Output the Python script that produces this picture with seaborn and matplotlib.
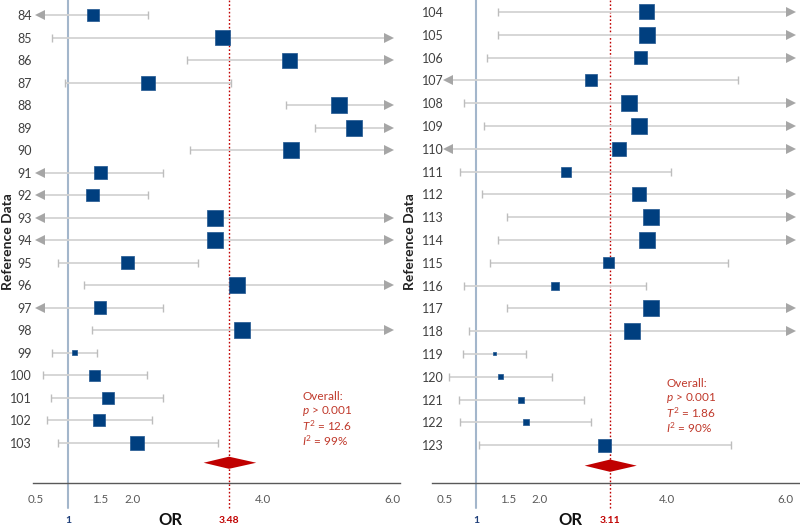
import numpy as np
import pandas as pd
import matplotlib
matplotlib.use("Agg")
import matplotlib.pyplot as plt
from matplotlib import transforms
import seaborn as sns

# ---------------- data ----------------
left_refs = list(range(84, 104))
left_or = [1.38, 3.38, 4.42, 2.24, 5.18, 5.40, 4.43, 1.50, 1.38, 3.26,
           3.26, 1.92, 3.61, 1.49, 3.68, 1.10, 1.41, 1.61, 1.48, 2.07]
left_lo = [0.40, 0.76, 2.84, 0.96, 4.36, 4.81, 2.88, 0.40, 0.40, 0.40,
           0.40, 0.85, 1.24, 0.40, 1.37, 0.76, 0.62, 0.74, 0.68, 0.85]
left_hi = [2.24, 7.50, 7.50, 3.51, 7.50, 7.50, 7.50, 2.47, 2.24, 7.50,
           7.50, 3.01, 7.50, 2.47, 7.50, 1.44, 2.22, 2.47, 2.29, 3.31]
left_w = [12, 15, 15, 14, 16, 16, 16, 13, 12.5, 16,
          16, 13, 16, 12.5, 16, 5, 11, 12, 11.5, 14]
left_pooled = 3.48
left_pooled_ci = (3.09, 3.90)
left_stats = ["Overall:", r"$p$ > 0.001", r"$T^2$ = 12.6", r"$I^2$ = 99%"]

right_refs = list(range(104, 124))
right_or = [3.69, 3.69, 3.59, 2.81, 3.41, 3.57, 3.25, 2.41, 3.56, 3.76,
            3.69, 3.09, 2.25, 3.76, 3.46, 1.29, 1.39, 1.71, 1.78, 3.03]
right_lo = [1.35, 1.35, 1.17, 0.40, 0.81, 1.12, 0.40, 0.74, 1.10, 1.49,
            1.35, 1.22, 0.81, 1.49, 0.89, 0.79, 0.58, 0.73, 0.75, 1.04]
right_hi = [7.50, 7.50, 7.50, 5.12, 7.50, 7.50, 7.50, 4.07, 7.50, 7.50,
            7.50, 4.97, 3.68, 7.50, 7.50, 1.79, 2.20, 2.70, 2.81, 5.02]
right_w = [15, 16, 13, 12, 16, 16, 14, 10, 14, 16,
           16, 11, 8, 16, 16, 3, 5, 6, 6, 13]
right_pooled = 3.11
right_pooled_ci = (2.71, 3.53)
right_stats = ["Overall:", r"$p$ > 0.001", r"$T^2$ = 1.86", r"$I^2$ = 90%"]

xtick_vals = [0.5, 1.5, 2.0, 4.0, 6.0]
xtick_labels = ["0.5", "1.5", "2.0", "4.0", "6.0"]
null_value = 1

# ---------------- style ----------------
sns.set_style("white")
plt.rcParams["font.family"] = ["Lato", "DejaVu Sans"]
plt.rcParams["mathtext.fontset"] = "custom"
plt.rcParams["mathtext.rm"] = "Lato"
plt.rcParams["mathtext.it"] = "Lato:italic"

BOX = "#003f7f"
CI = "#d3d3d3"
CAP = "#bdbdbd"
ARROW = "#a6a6a6"
RED = "#c00000"
NULLC = "#a3b6cb"

fig = plt.figure(figsize=(8, 5.27), dpi=100)
axL = fig.add_axes([33 / 800, 44 / 527, 367 / 800, 483 / 527])
axR = fig.add_axes([432 / 800, 44 / 527, 368 / 800, 483 / 527])


def panel(ax, refs, ors, los, his, ws, pooled, pci, stats, xlim, ylim,
          arrow_lo, arrow_hi, label_pad, stats_xy):
    n = len(refs)
    rows = np.arange(n)
    df = pd.DataFrame({"ref": refs, "or": ors, "lo": los, "hi": his,
                       "w": ws, "row": rows})
    df["area"] = (df["w"] * 0.72) ** 2

    ax.set_xlim(*xlim)
    ax.set_ylim(*ylim)

    # reference lines
    ax.axvline(null_value, ymin=-0.052, ymax=1, color=NULLC, lw=1.5,
               clip_on=False, zorder=1)
    ax.axvline(pooled, ymin=-0.052, ymax=1, color=RED, lw=1.0,
               ls=(0, (1.2, 1.5)), clip_on=False, zorder=1)

    # confidence intervals
    for _, r in df.iterrows():
        lo_clip = max(r["lo"], arrow_lo)
        hi_clip = min(r["hi"], arrow_hi)
        ax.plot([lo_clip, hi_clip], [r["row"], r["row"]], color=CI, lw=1.3,
                zorder=2, solid_capstyle="butt")
        if r["lo"] < arrow_lo:
            ax.plot(arrow_lo, r["row"], marker="<", color=ARROW, ms=6.5,
                    mew=0, zorder=3)
        else:
            ax.plot(r["lo"], r["row"], marker="|", color=CAP, ms=6,
                    mew=1.0, zorder=3)
        if r["hi"] > arrow_hi:
            ax.plot(arrow_hi, r["row"], marker=">", color=ARROW, ms=7,
                    mew=0, zorder=3)
        else:
            ax.plot(r["hi"], r["row"], marker="|", color=CAP, ms=6,
                    mew=1.0, zorder=3)

    # study boxes
    sizes = {a: a for a in df["area"].unique()}
    sns.scatterplot(data=df, x="or", y="row", size="area", sizes=sizes,
                    marker="s", color=BOX, edgecolor="#1f5590", linewidth=0.5,
                    legend=False, ax=ax, zorder=4)

    # pooled diamond
    dy = n - 0.1
    h = 0.27
    ax.fill([pci[0], pooled, pci[1], pooled], [dy, dy - h, dy, dy + h],
            color=RED, lw=0, zorder=4)

    # axes cosmetics
    for s in ["top", "right", "left"]:
        ax.spines[s].set_visible(False)
    ax.spines["bottom"].set_color("#595959")
    ax.spines["bottom"].set_linewidth(1.0)
    ax.set_yticks(rows)
    ax.set_yticklabels([str(r) for r in refs], fontsize=9, color="#404040")
    ax.tick_params(axis="y", length=0, pad=label_pad)
    ax.set_xticks(xtick_vals)
    ax.set_xticklabels(xtick_labels, fontsize=8.3, color="#595959")
    ax.tick_params(axis="x", length=0, pad=8)
    ax.set_xlabel("")
    ax.set_ylabel("Reference Data", fontsize=10, fontweight="bold",
                  color="#222222")

    trans = transforms.blended_transform_factory(ax.transData, ax.transAxes)
    ax.text(null_value, -0.077, "1", transform=trans, ha="center",
            va="center", fontsize=7.5, fontweight="bold", color="#1f3f7a")
    ax.text(pooled, -0.077, f"{pooled:.2f}", transform=trans, ha="center",
            va="center", fontsize=7.5, fontweight="bold", color=RED)
    ax.text(0.375, -0.077, "OR", transform=ax.transAxes, ha="center",
            va="center", fontsize=12, fontweight="bold", color="#111111")

    sx, sy = stats_xy
    for i, line in enumerate(stats):
        ax.text(sx, sy - i * 0.0305, line, transform=ax.transAxes,
                ha="left", va="center", fontsize=8.5, color="#c0392b")


panel(axL, left_refs, left_or, left_lo, left_hi, left_w, left_pooled,
      left_pooled_ci, left_stats, xlim=(0.461, 6.115), ylim=(20.8, -0.667),
      arrow_lo=0.57, arrow_hi=5.95, label_pad=1,
      stats_xy=(0.733, 0.18))
axL.yaxis.set_label_coords(-0.052, 0.5)

panel(axR, right_refs, right_or, right_lo, right_hi, right_w, right_pooled,
      right_pooled_ci, right_stats, xlim=(0.307, 6.10), ylim=(20.66, -0.526),
      arrow_lo=0.56, arrow_hi=5.96, label_pad=-8.5,
      stats_xy=(0.636, 0.207))
axR.yaxis.set_label_coords(-0.043, 0.5)
# keep the last tick label of the right panel inside the figure
axR.get_xticklabels()[-1].set_horizontalalignment("right")

fig.savefig("out.png", dpi=100)
